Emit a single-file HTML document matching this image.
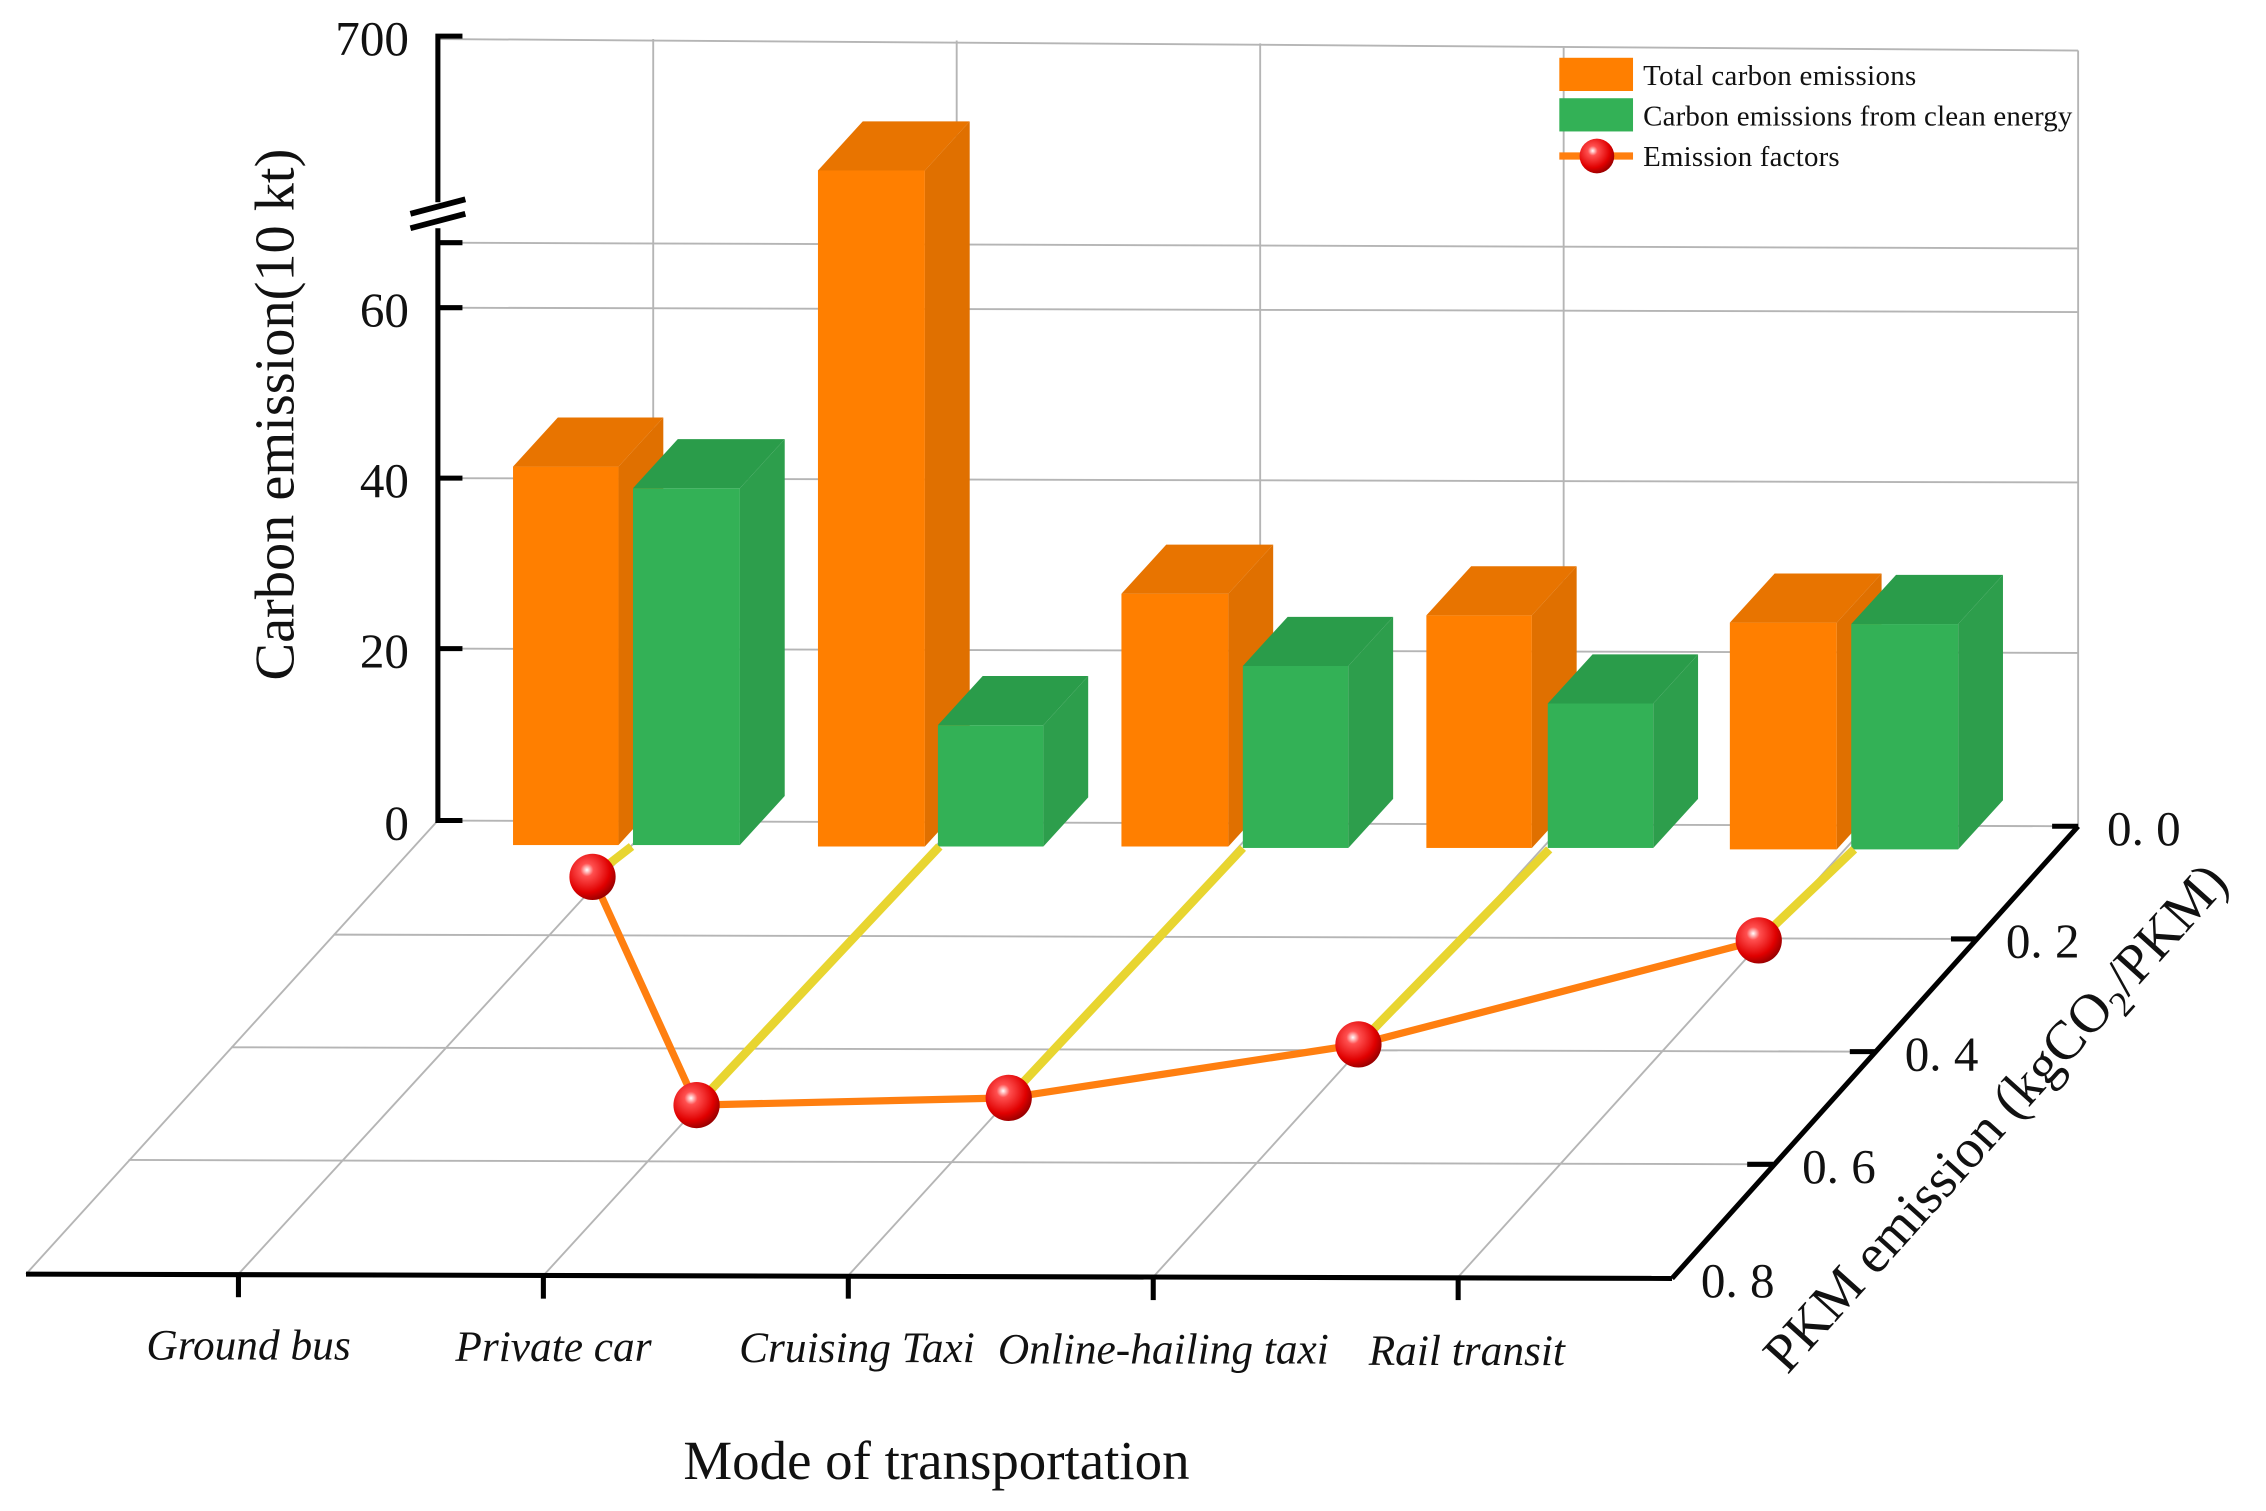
<!DOCTYPE html>
<html><head><meta charset="utf-8"><style>
html,body{margin:0;padding:0;background:#fff;}
svg{display:block;}
text{font-family:"Liberation Serif",serif;fill:#111;}
</style></head><body>
<svg width="2266" height="1511" viewBox="0 0 1568 1046" preserveAspectRatio="none" xmlns="http://www.w3.org/2000/svg">
<defs>
<radialGradient id="ball" cx="0.38" cy="0.35" r="0.7">
<stop offset="0" stop-color="#fff"/><stop offset="0.2" stop-color="#ff5050"/><stop offset="0.7" stop-color="#e00000"/><stop offset="1" stop-color="#900000"/>
</radialGradient>
</defs>
<g stroke="#b5b5b5" stroke-width="1.3" fill="none">
<line x1="303" y1="27" x2="1438" y2="35"/>
<line x1="1438" y1="35" x2="1438" y2="572"/>
<line x1="303" y1="168" x2="1438" y2="172"/>
<line x1="303" y1="213" x2="1438" y2="216"/>
<line x1="303" y1="331" x2="1438" y2="334"/>
<line x1="303" y1="449" x2="1438" y2="452"/>
<line x1="452" y1="27" x2="452" y2="569"/>
<line x1="662" y1="28" x2="662" y2="570"/>
<line x1="872" y1="30" x2="872" y2="570"/>
<line x1="1082" y1="32" x2="1082" y2="571"/>
<line x1="303" y1="568" x2="1438" y2="572"/>
<line x1="303" y1="568" x2="18" y2="882"/>
<line x1="231" y1="647" x2="1368" y2="650"/>
<line x1="160" y1="725" x2="1298" y2="728"/>
<line x1="89" y1="803" x2="1227" y2="806"/>
<line x1="452" y1="569" x2="165" y2="882"/>
<line x1="662" y1="570" x2="376" y2="883"/>
<line x1="872" y1="570" x2="587" y2="883"/>
<line x1="1082" y1="571" x2="798" y2="884"/>
<line x1="1292" y1="571" x2="1009" y2="884"/>
</g>
<g stroke="#000" stroke-width="3.5" fill="none">
<polyline points="320,25 303,25 303,568 320,568"/>
<line x1="303" y1="213" x2="320" y2="213"/>
<line x1="303" y1="331" x2="320" y2="331"/>
<line x1="303" y1="449" x2="320" y2="449"/>
<line x1="303" y1="168" x2="320" y2="168"/>
<line x1="18" y1="882" x2="1157" y2="885"/>
<line x1="1157" y1="885" x2="1438" y2="572"/>
<line x1="1438" y1="572" x2="1420" y2="572"/>
<line x1="1368" y1="650" x2="1350" y2="650"/>
<line x1="1298" y1="728" x2="1280" y2="728"/>
<line x1="1227" y1="806" x2="1209" y2="806"/>
<line x1="165" y1="882" x2="165" y2="898"/>
<line x1="376" y1="883" x2="376" y2="899"/>
<line x1="587" y1="883" x2="587" y2="899"/>
<line x1="798" y1="884" x2="798" y2="900"/>
<line x1="1009" y1="884" x2="1009" y2="900"/>
</g>
<rect x="290" y="140" width="26" height="18" fill="#fff"/>
<g stroke="#000" stroke-width="4"><line x1="284" y1="148" x2="322" y2="138"/><line x1="284" y1="158" x2="322" y2="148"/></g>
<g>
<rect x="355" y="323" width="73" height="262" fill="#ff7f00"/>
<polygon points="355,323 386,289 459,289 428,323" fill="#e87400"/>
<polygon points="428,323 459,289 459,551 428,585" fill="#e07000"/>
<rect x="438" y="338" width="74" height="247" fill="#33b156"/>
<polygon points="438,338 469,304 543,304 512,338" fill="#2a9c4a"/>
<polygon points="512,338 543,304 543,551 512,585" fill="#2d9e4c"/>

<rect x="566" y="118" width="74" height="468" fill="#ff7f00"/>
<polygon points="566,118 597,84 671,84 640,118" fill="#e87400"/>
<polygon points="640,118 671,84 671,552 640,586" fill="#e07000"/>
<rect x="649" y="502" width="73" height="84" fill="#33b156"/>
<polygon points="649,502 680,468 753,468 722,502" fill="#2a9c4a"/>
<polygon points="722,502 753,468 753,552 722,586" fill="#2d9e4c"/>

<rect x="776" y="411" width="74" height="175" fill="#ff7f00"/>
<polygon points="776,411 807,377 881,377 850,411" fill="#e87400"/>
<polygon points="850,411 881,377 881,552 850,586" fill="#e07000"/>
<rect x="860" y="461" width="73" height="126" fill="#33b156"/>
<polygon points="860,461 891,427 964,427 933,461" fill="#2a9c4a"/>
<polygon points="933,461 964,427 964,553 933,587" fill="#2d9e4c"/>

<rect x="987" y="426" width="73" height="161" fill="#ff7f00"/>
<polygon points="987,426 1018,392 1091,392 1060,426" fill="#e87400"/>
<polygon points="1060,426 1091,392 1091,553 1060,587" fill="#e07000"/>
<rect x="1071" y="487" width="73" height="100" fill="#33b156"/>
<polygon points="1071,487 1102,453 1175,453 1144,487" fill="#2a9c4a"/>
<polygon points="1144,487 1175,453 1175,553 1144,587" fill="#2d9e4c"/>

<rect x="1197" y="431" width="74" height="157" fill="#ff7f00"/>
<polygon points="1197,431 1228,397 1302,397 1271,431" fill="#e87400"/>
<polygon points="1271,431 1302,397 1302,554 1271,588" fill="#e07000"/>
<rect x="1281" y="432" width="74" height="156" fill="#33b156"/>
<polygon points="1281,432 1312,398 1386,398 1355,432" fill="#2a9c4a"/>
<polygon points="1355,432 1386,398 1386,554 1355,588" fill="#2d9e4c"/>
</g>
<g stroke="#e8d530" stroke-width="6">
<line x1="437" y1="586" x2="410" y2="607"/>
<line x1="650" y1="586" x2="482" y2="765"/>
<line x1="860" y1="587" x2="698" y2="760"/>
<line x1="1072" y1="588" x2="940" y2="723"/>
<line x1="1283" y1="588" x2="1217" y2="651"/>
</g>
<polyline points="410,607 482,765 698,760 940,723 1217,651" fill="none" stroke="#ff7f10" stroke-width="5"/>
<g fill="url(#ball)">
<circle cx="410" cy="607" r="16"/><circle cx="482" cy="765" r="16"/><circle cx="698" cy="760" r="16"/><circle cx="940" cy="723" r="16"/><circle cx="1217" cy="651" r="16"/>
</g>
<rect x="1079" y="40" width="51" height="23" fill="#ff7f00"/>
<rect x="1079" y="68" width="51" height="23" fill="#33b156"/>
<line x1="1079" y1="108" x2="1130" y2="108" stroke="#ff7f10" stroke-width="5"/>
<circle cx="1105" cy="108" r="12" fill="url(#ball)"/>
<g font-size="20"><text x="1137" y="59" textLength="189">Total carbon emissions</text><text x="1137" y="87" textLength="297">Carbon emissions from clean energy</text><text x="1137" y="115" textLength="136">Emission factors</text></g>
<g font-size="34" text-anchor="end"><text x="283" y="38">700</text><text x="283" y="226">60</text><text x="283" y="344">40</text><text x="283" y="462">20</text><text x="283" y="581">0</text></g>
<g font-size="34"><text x="1458" y="585">0. 0</text><text x="1388" y="663">0. 2</text><text x="1318" y="741">0. 4</text><text x="1247" y="819">0. 6</text><text x="1177" y="898">0. 8</text></g>
<g font-size="30" font-style="italic" text-anchor="middle"><text x="172" y="941">Ground bus</text><text x="383" y="942">Private car</text><text x="593" y="943">Cruising Taxi</text><text x="805" y="944">Online-hailing taxi</text><text x="1015" y="945">Rail transit</text></g>
<text x="648" y="1024" font-size="38" text-anchor="middle">Mode of transportation</text>
<text transform="translate(203,287) rotate(-90)" font-size="39" text-anchor="middle">Carbon emission(10 kt)</text>
<text transform="translate(1390,782) rotate(-48)" font-size="38" text-anchor="middle">PKM emission (kgCO<tspan font-size="25" dy="8">2</tspan><tspan dy="-8">/PKM)</tspan></text>
</svg>
</body></html>
